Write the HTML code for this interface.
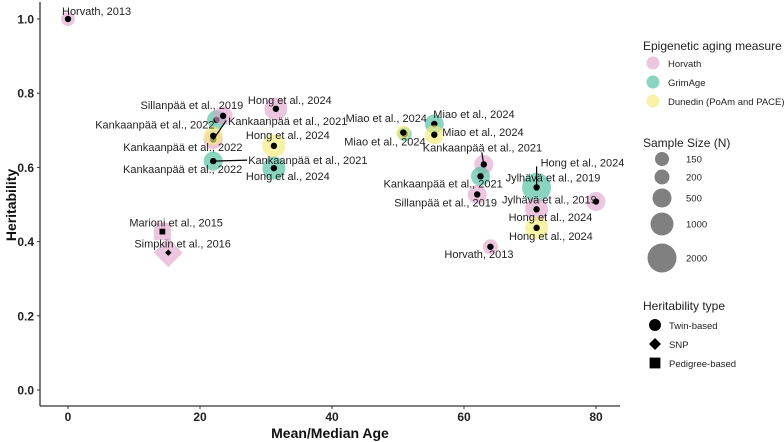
<!DOCTYPE html>
<html><head><meta charset="utf-8">
<style>
html,body{margin:0;padding:0;background:#fff;}
svg{display:block;font-family:"Liberation Sans",sans-serif;}
</style></head>
<body>
<svg id="chart" width="784" height="442" viewBox="0 0 784 442">
<g id="marks"></g>
<g id="axes"></g>
<g id="legend"></g>
</svg>
<script>
const ages = [0, 22.5, 23.5, 22, 22, 22, 31.5, 31.2, 31.2, 51, 55.5, 55.5, 63, 62.5, 62, 71, 71, 80, 71, 64, 14.3, 15.2, 50.8];
const herit = [1.0, 0.728, 0.739, 0.675, 0.685, 0.617, 0.758, 0.658, 0.598, 0.69, 0.717, 0.688, 0.608, 0.576, 0.527, 0.546, 0.487, 0.508, 0.437, 0.386, 0.427, 0.37, 0.694];
const measures = ["Horvath","GrimAge","Horvath","Horvath","Dunedin","GrimAge","Horvath","Dunedin","GrimAge","GrimAge","GrimAge","Dunedin","Horvath","GrimAge","Horvath","GrimAge","Horvath","Horvath","Dunedin","Horvath","Horvath","Horvath","Dunedin"];
const sampleN = [150, 500, 500, 500, 500, 500, 1000, 1000, 1000, 150, 500, 500, 500, 500, 500, 2000, 1000, 500, 1000, 200, 500, 2000, 150];
const htype = ["Twin","Twin","Twin","Twin","Twin","Twin","Twin","Twin","Twin","Twin","Twin","Twin","Twin","Twin","Twin","Twin","Twin","Twin","Twin","Twin","Pedigree","SNP","Twin"];
const labels = ["Horvath, 2013","Sillanpää et al., 2019","Kankaanpää et al., 2021","Kankaanpää et al., 2022","Kankaanpää et al., 2022","Kankaanpää et al., 2021","Hong et al., 2024","Hong et al., 2024","Hong et al., 2024","Miao et al., 2024","Miao et al., 2024","Miao et al., 2024","Kankaanpää et al., 2021","Kankaanpää et al., 2021","Sillanpää et al., 2019","Hong et al., 2024","Jylhävä et al., 2019","Jylhävä et al., 2019","Hong et al., 2024","Horvath, 2013","Marioni et al., 2015","Simpkin et al., 2016","Miao et al., 2024"];
const extraLabels = ["Kankaanpää et al., 2022","Hong et al., 2024"];
const xTicks = [0, 20, 40, 60, 80];
const yTicks = [0, 0.2, 0.4, 0.6, 0.8, 1.0];
const sizeLegend = [150, 200, 500, 1000, 2000];

// label placement: pixel offsets (text start, vertical centre) from point
const labelPos = [[-6,-8],[-76,-15],[5,5],[-118,-15],[-90,11],[35,-1],[-28,-9],[-28,-11],[-28,8],[-59,-16],[-1,-10],[8,-3],[-61,-17],[-97,7],[-83,8],[4,-25],[-31,-32],[-94,-2],[-28,-11],[-46,7],[-33,-9],[-34,-9],[-59,9]];
const extraPos = [[123,169],[509,236]];
// leader lines: [point index, end dx, end dy]
const leaders = [[3,13,-19],[5,34,-1],[12,-2,-12],[15,0,-21]];

const NS="http://www.w3.org/2000/svg";
const x = v => 68 + v*6.6;
const y = v => 390 - v*371;
const colors = {Horvath:"rgba(222,160,200,0.6)",GrimAge:"rgba(60,185,150,0.6)",Dunedin:"rgba(245,235,120,0.65)"};
const rad = n => n<=150?7:n<=200?7.5:n<=500?9.5:n<=1000?11.5:14.5;
function mk(tag, attrs, parent){const e=document.createElementNS(NS,tag);for(const k in attrs)e.setAttribute(k,attrs[k]);parent.appendChild(e);return e;}
const marks=document.getElementById('marks'), axes=document.getElementById('axes'), legend=document.getElementById('legend');

function shape(kind, cx, cy, r, fill, parent){
  let e;
  if(kind==="Twin") e=mk('circle',{cx:cx,cy:cy,r:r,fill:fill},parent);
  else if(kind==="SNP") e=mk('polygon',{points:`${cx},${cy-r} ${cx+r},${cy} ${cx},${cy+r} ${cx-r},${cy}`,fill:fill},parent);
  else e=mk('rect',{x:cx-r*0.9,y:cy-r*0.9,width:r*1.8,height:r*1.8,fill:fill},parent);
  return e;
}

ages.forEach((a,i)=>{
  const cx=x(a), cy=y(herit[i]);
  const bg=shape(htype[i],cx,cy,rad(sampleN[i]),colors[measures[i]],marks);
  
  
  const dot=shape(htype[i],cx,cy,3.2,"#000",marks);
  
  
});
leaders.forEach(l=>{
  const cx=x(ages[l[0]]), cy=y(herit[l[0]]);
  const ln=mk('line',{x1:cx,y1:cy,x2:cx+l[1],y2:cy+l[2],stroke:"#000","stroke-width":1.2},marks);
  
  
});
ages.forEach((a,i)=>{
  const cx=x(a), cy=y(herit[i]);
  const p=labelPos[i];
  const t=mk('text',{x:cx+p[0],y:cy+p[1]+4,"font-size":11,fill:"#222"},marks);
  t.textContent=labels[i];
  
  
});
extraLabels.forEach((s,i)=>{
  const t=mk('text',{x:extraPos[i][0],y:extraPos[i][1]+4,"font-size":11,fill:"#222"},marks);
  t.textContent=s;
  
  
});

// axes
const ya=mk('line',{x1:40,y1:2,x2:40,y2:406,stroke:"#333","stroke-width":1.3},axes);


const xa=mk('line',{x1:40,y1:406,x2:620,y2:406,stroke:"#333","stroke-width":1.3},axes);


yTicks.forEach(v=>{
  mk('line',{x1:37,y1:y(v),x2:40,y2:y(v),stroke:"#333"},axes);
  const t=mk('text',{x:34,y:y(v)+4.5,"text-anchor":"end","font-size":12,"font-weight":"bold",fill:"#222"},axes);
  t.textContent=v.toFixed(1);
  
  
});
xTicks.forEach(v=>{
  mk('line',{x1:x(v),y1:406,x2:x(v),y2:409,stroke:"#333"},axes);
  const t=mk('text',{x:x(v),y:421,"text-anchor":"middle","font-size":12,"font-weight":"bold",fill:"#222"},axes);
  t.textContent=v;
  
  
});
const xt=mk('text',{x:330,y:438,"text-anchor":"middle","font-size":14,"font-weight":"bold",fill:"#111"},axes);
xt.textContent="Mean/Median Age";


const yt=mk('text',{x:0,y:0,transform:"translate(16,205) rotate(-90)","text-anchor":"middle","font-size":14,"font-weight":"bold",fill:"#111"},axes);
yt.textContent="Heritability";



// legend
function ltext(txt,lx,ly,fs,name){const t=mk('text',{x:lx,y:ly,"font-size":fs,fill:"#222"},legend);t.textContent=txt;return t;}
ltext("Epigenetic aging measure",643,50,12,'legend-title-measure');
[["Horvath","Horvath"],["GrimAge","GrimAge"],["Dunedin","Dunedin (PoAm and PACE)"]].forEach((m,i)=>{
  const c=mk('circle',{cx:653,cy:63+i*19,r:6.5,fill:colors[m[0]]},legend);
  
  
  ltext(m[1],668,67+i*19,9.5,'legend-entry-'+m[0].toLowerCase());
});
ltext("Sample Size (N)",643,147,12,'legend-title-size');
const sy=[159,177,198,224,258];
sizeLegend.forEach((n,i)=>{
  const c=mk('circle',{cx:662,cy:sy[i],r:rad(n),fill:"#808080"},legend);
  
  
  ltext(String(n),686,sy[i]+3.5,9.5,'legend-size-label-'+n);
});
ltext("Heritability type",643,310,12,'legend-title-type');
[["Twin","Twin-based"],["SNP","SNP"],["Pedigree","Pedigree-based"]].forEach((m,i)=>{
  const s=shape(m[0],655,325+i*19,6,"#000",legend);
  
  
  ltext(m[1],669,329+i*19,9.5,'legend-type-'+m[0].toLowerCase());
});
</script>
</body></html>
